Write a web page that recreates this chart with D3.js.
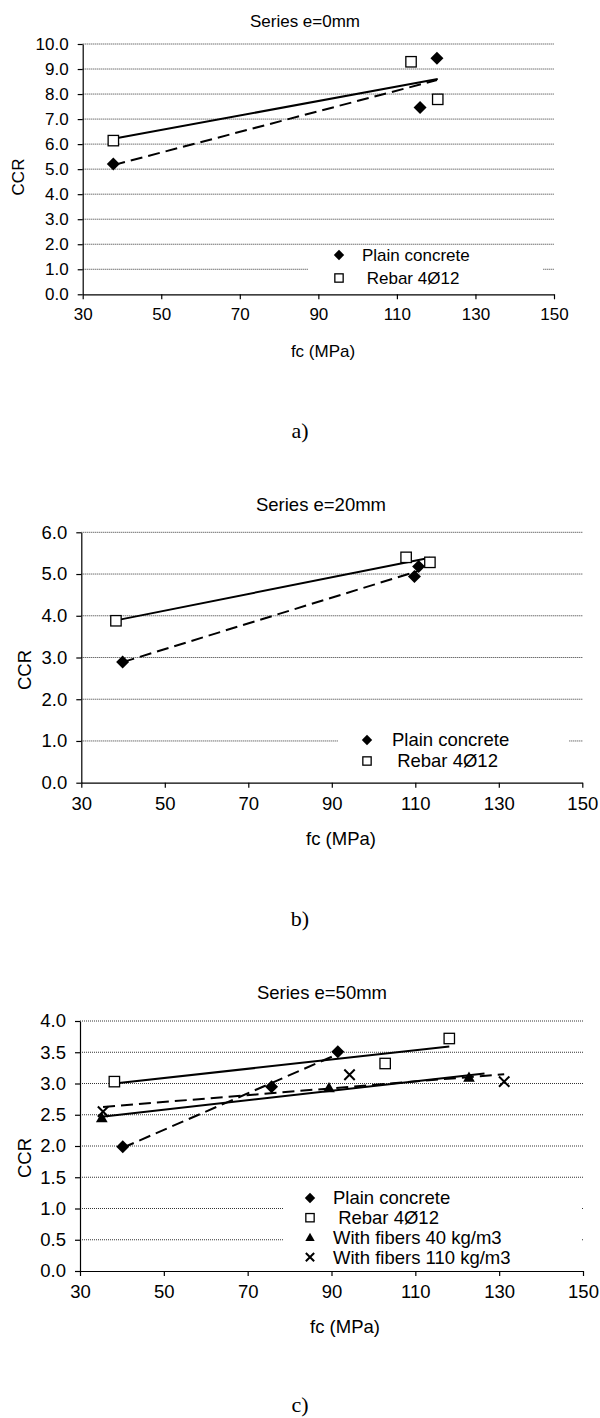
<!DOCTYPE html>
<html>
<head>
<meta charset="utf-8">
<script src="https://cdn.jsdelivr.net/npm/d3@7"></script>
<style>
  body { margin: 0; background: #fff; }
  svg text { font-family: "Liberation Sans", Arial, sans-serif; fill: #000; }
</style>
</head>
<body>
<div id="chart"></div>
<script>
// x ticks shared by all three panels
const xTicks = [30, 50, 70, 90, 110, 130, 150];

// Series e=0mm
const aYTicks = [0, 1, 2, 3, 4, 5, 6, 7, 8, 9, 10];
const aPlainX = [37.8, 115.9, 120.2];
const aPlainY = [5.21, 7.46, 9.43];
const aRebarX = [37.8, 113.6, 120.4];
const aRebarY = [6.14, 9.29, 7.79];

// Series e=20mm
const bYTicks = [0, 1, 2, 3, 4, 5, 6];
const bPlainX = [39.9, 109.8, 110.8];
const bPlainY = [2.89, 4.94, 5.18];
const bRebarX = [38.3, 107.8, 113.5];
const bRebarY = [3.88, 5.40, 5.28];

// Series e=50mm
const cYTicks = [0, 0.5, 1, 1.5, 2, 2.5, 3, 3.5, 4];
const cPlainX = [40.2, 75.7, 91.5];
const cPlainY = [1.99, 2.95, 3.51];
const cRebarX = [38.2, 102.8, 118.1];
const cRebarY = [3.03, 3.32, 3.72];
const cFib40X = [35.2, 89.4, 122.8];
const cFib40Y = [2.45, 2.93, 3.10];
const cFib110X = [35.5, 94.3, 131.2];
const cFib110Y = [2.55, 3.14, 3.03];

const names = ["Plain concrete", " Rebar 4Ø12", "With fibers 40 kg/m3", "With fibers 110 kg/m3"];

const width = 600, height = 1418;
const svg = d3.create("svg")
    .attr("width", width)
    .attr("height", height)
    .attr("viewBox", [0, 0, width, height]);

const panels = [
  {
    title: "Series e=0mm", tag: "a)", yTicks: aYTicks, yMax: 10,
    left: 82.7, right: 554, top: 44, bottom: 294.3, font: 17,
    titleX: 305, titleY: 21, ccrX: 18, ccrY: 177, fcX: 323, fcY: 351, tagY: 430,
    legend: {x: 308, y: 246, w: 235, h: 46, symX: 339, textX: 362, rowY: 255, dy: 23},
    series: [
      {xs: aPlainX, ys: aPlainY, mark: "diamond", dash: true},
      {xs: aRebarX, ys: aRebarY, mark: "square", dash: false}
    ]
  },
  {
    title: "Series e=20mm", tag: "b)", yTicks: bYTicks, yMax: 6,
    left: 81.3, right: 582.3, top: 532.3, bottom: 782.7, font: 18.5,
    titleX: 321, titleY: 505, ccrX: 25, ccrY: 670, fcX: 341, fcY: 839, tagY: 918,
    legend: {x: 338, y: 726, w: 231, h: 50, symX: 367, textX: 392, rowY: 740, dy: 21},
    series: [
      {xs: bPlainX, ys: bPlainY, mark: "diamond", dash: true},
      {xs: bRebarX, ys: bRebarY, mark: "square", dash: false}
    ]
  },
  {
    title: "Series e=50mm", tag: "c)", yTicks: cYTicks, yMax: 4,
    left: 80, right: 583, top: 1021, bottom: 1271, font: 18.5,
    titleX: 322, titleY: 993, ccrX: 25, ccrY: 1158, fcX: 345, fcY: 1327, tagY: 1404,
    legend: {x: 283, y: 1184, w: 298, h: 84, symX: 310, textX: 333, rowY: 1198, dy: 19.7},
    series: [
      {xs: cPlainX, ys: cPlainY, mark: "diamond", dash: true},
      {xs: cRebarX, ys: cRebarY, mark: "square", dash: false},
      {xs: cFib40X, ys: cFib40Y, mark: "triangle", dash: false, forward: 3.7},
      {xs: cFib110X, ys: cFib110Y, mark: "cross", dash: true}
    ]
  }
];

// least squares line over the data range
function trend(xs, ys, forward) {
  const mx = d3.mean(xs), my = d3.mean(ys);
  const sxy = d3.sum(xs, (x, i) => (x - mx) * (ys[i] - my));
  const sxx = d3.sum(xs, x => (x - mx) * (x - mx));
  const k = sxy / sxx;
  const x0 = d3.min(xs), x1 = d3.max(xs) + (forward || 0);
  return [[x0, my + k * (x0 - mx)], [x1, my + k * (x1 - mx)]];
}

function drawMark(g, type, cx, cy, s) {
  if (type === "diamond") {
    g.append("path")
        .attr("d", `M${cx},${cy - s}L${cx + s},${cy}L${cx},${cy + s}L${cx - s},${cy}Z`)
        .attr("fill", "#000");
  } else if (type === "square") {
    const h = s * 0.8;
    g.append("rect")
        .attr("x", cx - h).attr("y", cy - h)
        .attr("width", 2 * h).attr("height", 2 * h)
        .attr("fill", "#fff").attr("stroke", "#000").attr("stroke-width", 1.3);
  } else if (type === "triangle") {
    const h = s * 0.9;
    g.append("path")
        .attr("d", `M${cx},${cy - h}L${cx + h},${cy + h * 0.75}L${cx - h},${cy + h * 0.75}Z`)
        .attr("fill", "#000");
  } else {
    const h = s * 0.8;
    g.append("path")
        .attr("d", `M${cx - h},${cy - h}L${cx + h},${cy + h}M${cx + h},${cy - h}L${cx - h},${cy + h}`)
        .attr("stroke", "#000").attr("stroke-width", 2).attr("fill", "none");
  }
}

panels.forEach(p => {
  const g = svg.append("g").attr("font-size", p.font);

  const x = d3.scaleLinear().domain([30, 150]).range([p.left, p.right]);
  const y = d3.scaleLinear().domain([0, p.yMax]).range([p.bottom, p.top]);

  // Gridlines
  g.append("g")
      .selectAll("line")
      .data(p.yTicks.filter(t => t > 0))
      .enter().append("line")
      .attr("x1", p.left).attr("x2", p.right)
      .attr("y1", d => y(d)).attr("y2", d => y(d))
      .attr("stroke", "#333")
      .attr("stroke-width", 1)
      .attr("stroke-dasharray", "1,1");

  // Axes
  const yAxis = g.append("g")
      .attr("transform", `translate(${p.left},0)`)
      .call(d3.axisLeft(y).tickValues(p.yTicks).tickFormat(d3.format(".1f"))
          .tickSize(5).tickSizeOuter(0).tickPadding(9));
  const xAxis = g.append("g")
      .attr("transform", `translate(0,${p.bottom})`)
      .call(d3.axisBottom(x).tickValues(xTicks).tickSize(5).tickSizeOuter(0).tickPadding(9));
  [yAxis, xAxis].forEach(a => {
    a.attr("font-family", null).attr("font-size", null);
    a.selectAll("path, line").attr("stroke", "#000").attr("stroke-width", 1.2);
  });

  // Trendlines
  const line = d3.line().x(d => x(d[0])).y(d => y(d[1]));
  p.series.forEach(s => {
    g.append("path")
        .attr("d", line(trend(s.xs, s.ys, s.forward)))
        .attr("fill", "none")
        .attr("stroke", "#000")
        .attr("stroke-width", 2)
        .attr("stroke-dasharray", s.dash ? "12,6" : null);
  });

  // Markers
  p.series.forEach(s => {
    s.xs.forEach((v, i) => drawMark(g, s.mark, x(v), y(s.ys[i]), 6.5));
  });

  // Legend
  const L = p.legend;
  const lg = g.append("g");
  lg.append("rect")
      .attr("x", L.x).attr("y", L.y)
      .attr("width", L.w).attr("height", L.h)
      .attr("fill", "#fff");
  p.series.forEach((s, i) => {
    const cy = L.rowY + i * L.dy;
    drawMark(lg, s.mark, L.symX, cy, 5.2);
    lg.append("text")
        .attr("x", L.textX).attr("y", cy)
        .attr("dy", "0.35em")
        .style("white-space", "pre")
        .text(names[i]);
  });

  // Titles
  g.append("text")
      .attr("x", p.titleX).attr("y", p.titleY).attr("dy", "0.35em")
      .attr("text-anchor", "middle")
      .text(p.title);
  g.append("text")
      .attr("transform", `translate(${p.ccrX},${p.ccrY}) rotate(-90)`)
      .attr("dy", "0.35em")
      .attr("text-anchor", "middle")
      .text("CCR");
  g.append("text")
      .attr("x", p.fcX).attr("y", p.fcY).attr("dy", "0.35em")
      .attr("text-anchor", "middle")
      .text("fc (MPa)");
  g.append("text")
      .attr("x", 300).attr("y", p.tagY).attr("dy", "0.35em")
      .attr("text-anchor", "middle")
      .style("font-family", "'Liberation Serif', 'Times New Roman', serif")
      .attr("font-size", 22)
      .text(p.tag);
});

document.getElementById("chart").appendChild(svg.node());
</script>
</body>
</html>
